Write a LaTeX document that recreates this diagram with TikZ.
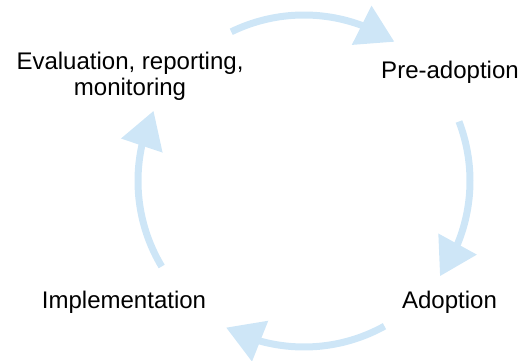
\documentclass[tikz,border=0pt]{standalone}
\usepackage{fontspec}
\setmainfont{Liberation Sans}
\usetikzlibrary{arrows.meta,bending,calc}

\definecolor{cyclecol}{RGB}{206,230,247}
\tikzset{
  stage/.style={font=\fontsize{20.5pt}{22.2pt}\selectfont, inner sep=0pt, align=center},
  cyclearrow/.style={draw=cyclecol, line width=0.21cm,
    -{Triangle[length=1.1cm,width=1.26cm,flex]}}
}

\begin{document}
\begin{tikzpicture}[x=0.03cm,y=0.03cm]
\useasboundingbox (0,0) rectangle (521,361);

\coordinate (c) at (304,180);

\node[stage](eval)at(130,285){Evaluation, reporting,\\monitoring};
\node[stage,anchor=base](pre) at (450,282){Pre-adoption};
\node[stage,anchor=base](adopt) at(449.5,52) {Adoption};
\node[stage,anchor=base](impl)at(124,52){Implementation};

\coordinate (a1) at ($(c)+(116:166)$);
\coordinate (a2) at ($(c)+(21:166)$);
\coordinate (a3) at ($(c)+(-61:166)$);
\coordinate (a4) at ($(c)+(211:166)$);

\draw[cyclearrow](a1) arc[start angle=116,end angle=57,radius=166];
\draw[cyclearrow](a2) arc[start angle=21,end angle=-35,radius=166];
\draw[cyclearrow](a3) arc[start angle=-61,end angle=-118,radius=166];
\draw[cyclearrow](a4) arc[start angle=211,end angle=155,radius=166];

\end{tikzpicture}
\end{document}
